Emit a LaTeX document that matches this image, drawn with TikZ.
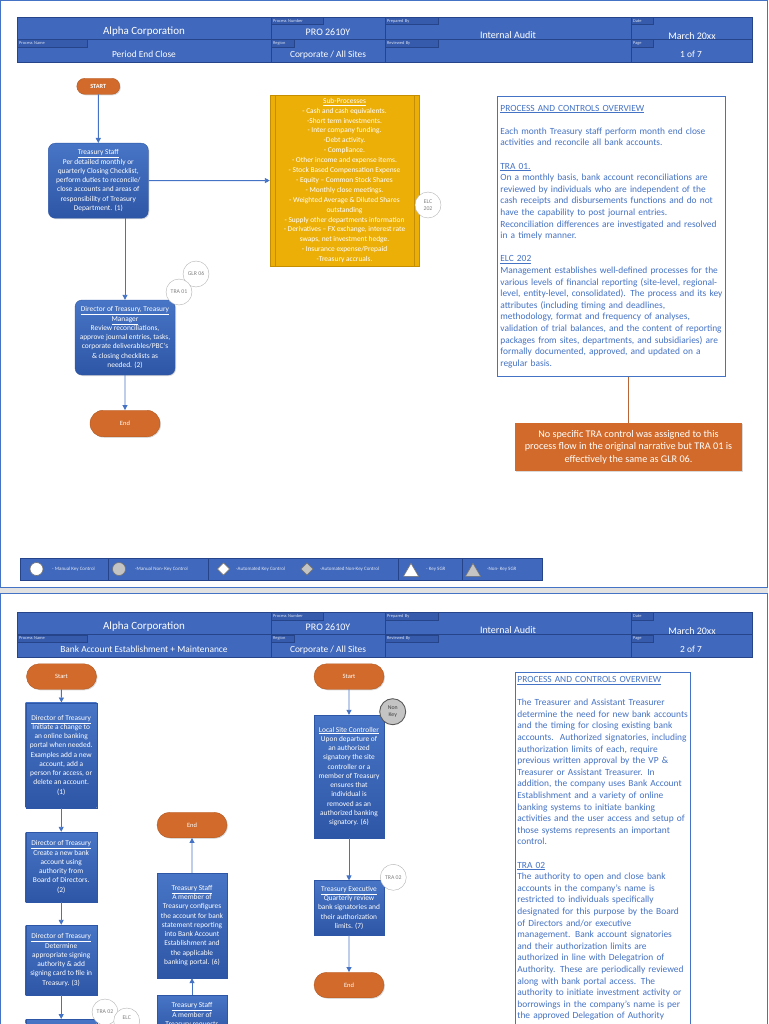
\documentclass[tikz,border=0pt]{standalone}
\usepackage{fontspec}
\setmainfont{Carlito}
\usetikzlibrary{arrows.meta,positioning,shapes.misc,shapes.geometric,shadows}
\definecolor{hdrblue}{RGB}{64,104,188}
\definecolor{tagblue}{RGB}{54,91,172}
\definecolor{hdrline}{RGB}{38,68,138}
\definecolor{boxblue}{RGB}{72,117,198}
\definecolor{boxdark}{RGB}{46,86,166}
\definecolor{pillorange}{RGB}{209,106,42}
\definecolor{noteline}{RGB}{185,100,55}
\definecolor{subgold}{RGB}{236,175,8}
\definecolor{subedge}{RGB}{196,142,0}
\definecolor{txtblue}{RGB}{68,114,196}
\definecolor{ctlgray}{RGB}{178,178,178}
\definecolor{lggray}{RGB}{196,196,196}
\definecolor{gapgray}{RGB}{226,226,226}
\newcommand{\fsz}[2]{\fontsize{#1}{#2}\selectfont}
\tikzset{
  frame/.style={draw=txtblue,line width=1pt},
  hdrcell/.style={draw=hdrline,fill=hdrblue,line width=0.4pt},
  hdrtag/.style={anchor=north west,fill=tagblue,draw=hdrline,line width=0.3pt,inner xsep=2pt,inner ysep=0.8pt,
    minimum height=7.5pt,align=left,font=\fsz{4.4}{5},text=white!80!hdrblue,
    drop shadow={shadow xshift=0.8pt,shadow yshift=-0.8pt,opacity=0.35}},
  hdrbig/.style={font=\fsz{11}{13},text=white,inner sep=0pt},
  hdrval/.style={font=\fsz{10}{12},text=white,inner sep=0pt},
  hdrsub/.style={font=\fsz{9.4}{11},text=white,inner sep=0pt},
  flowbox/.style={rectangle,draw=boxdark,top color=boxblue,bottom color=boxdark,text=white,
    font=\fsz{7.4}{9.25},align=center,inner sep=1pt,
    drop shadow={shadow xshift=1pt,shadow yshift=-1pt,opacity=0.3}},
  pill/.style={rounded rectangle,fill=pillorange,draw=pillorange!85!black,text=white,
    font=\fsz{6.5}{7},minimum width=70pt,minimum height=25.5pt,inner sep=0pt,
    drop shadow={shadow xshift=1pt,shadow yshift=-1pt,opacity=0.3}},
  flowarrow/.style={draw=txtblue,line width=0.9pt,-{Triangle[length=5pt,width=5pt]}},
  subproc/.style={rectangle,draw=subedge,fill=subgold,text=white,font=\fsz{7.4}{9.9},align=center,
    minimum width=149pt,minimum height=171pt,inner sep=1pt,
    drop shadow={shadow xshift=1pt,shadow yshift=-1pt,opacity=0.3}},
  subbar/.style={draw=subedge,line width=0.6pt},
  ovrbox/.style={rectangle,draw=txtblue,line width=0.8pt,fill=white,text=txtblue,anchor=north west,
    font=\fsz{9.4}{11.6},align=left,inner xsep=3pt},
  notebox/.style={rectangle,fill=pillorange,text=white,font=\fsz{10.2}{12.5},align=center,
    minimum width=227pt,minimum height=48pt,
    drop shadow={shadow xshift=1pt,shadow yshift=-1pt,opacity=0.3}},
  notelink/.style={draw=noteline,line width=0.7pt},
  ctl/.style={circle,draw=ctlgray,fill=white,text=gray,font=\fsz{5.8}{6.4},align=center,
    minimum size=26pt,inner sep=0pt},
  ctlnon/.style={ctl,fill=lggray,draw=black!65,line width=0.9pt,text=black!75},
  lgmark/.style={draw=black!55,fill=white,inner sep=0pt,line width=0.6pt},
  lgtext/.style={anchor=west,font=\fsz{5}{6},text=white!85!hdrblue,inner sep=0pt},
}
\begin{document}
\begin{tikzpicture}[x=1pt,y=-1pt]
  \useasboundingbox (0,0) rectangle (768,1024);
  \clip (0,0) rectangle (768,1024);
  % ---------- page frames ----------
  \fill[gapgray] (0,587) rectangle (768,593);
  \draw[frame] (0.5,0.5) rectangle (767.5,587);
  \draw[frame] (0.5,593) rectangle (767.5,1030);
  % ---------- headers of both pages ----------
  \foreach \pg/\dy/\pname in {1/0/{Period End Close},2/595/{Bank Account Establishment + Maintenance}}{
    \begin{scope}[shift={(0,\dy)},name prefix=h\pg-]
      \foreach \xa/\xb in {17/271,271/385,385/631,631/752}{
        \draw[hdrcell] (\xa,17) rectangle (\xb,39.5);
        \draw[hdrcell] (\xa,39.5) rectangle (\xb,62);
      }
      \node[hdrtag,text width=48pt] (tnum) at (271,17) {Process Number};
      \node[hdrtag,text width=49pt] (tprep) at (385,17) {Prepared By};
      \node[hdrtag,text width=18pt] (tdate) at (631,17) {Date};
      \node[hdrtag,text width=66pt] (tname) at (17,39.5) {Process Name};
      \node[hdrtag,text width=19pt] (treg) at (271,39.5) {Region};
      \node[hdrtag,text width=49pt] (trev) at (385,39.5) {Reviewed By};
      \node[hdrtag,text width=18pt] (tpage) at (631,39.5) {Page};
      \node[hdrbig] (corp) at (144,31.5) {Alpha Corporation};
      \node[hdrval] (pnum) at (328,32) {PRO 2610Y};
      \node[hdrval] (prep) at (508,35) {Internal Audit};
      \node[hdrval] (date) at (692,36) {March 20xx};
      \node[hdrsub] (pname) at (144,54.5) {\pname};
      \node[hdrsub] (region) at (328,54.5) {Corporate / All Sites};
      \node[hdrsub] (page) at (691,54.5) {\pg{} of 7};
    \end{scope}
  }
  % ---------- page 1: flow ----------
  \node[pill,minimum width=43pt,minimum height=16pt,font=\bfseries\fsz{6.3}{7}] (start1) at (98.3,86.3) {START};
  \node[flowbox,rounded corners=7pt,minimum width=100pt,minimum height=75pt] (staff1) at (98.3,180.7)
    {\underline{Treasury Staff}\\Per detailed monthly or\\quarterly Closing Checklist,\\perform duties to reconcile/\\close accounts and areas of\\responsibility of Treasury\\Department. (1)};
  \node[flowbox,rounded corners=7pt,minimum width=100pt,minimum height=75pt] (dir1) at (125,337.5)
    {\underline{Director of Treasury, Treasury}\\\underline{Manager}\\Review reconciliations,\\approve journal entries, tasks,\\corporate deliverables/PBC’s\\\& closing checklists as\\needed. (2)};
  \node[pill,minimum height=26.5pt] (end1) at (125,423.5) {End};
  \node[subproc] (sub1) at (344.5,180.5)
    {\underline{Sub-Processes}\\- Cash and cash equivalents.\\-Short term investments.\\- Inter company funding.\\-Debt activity.\\- Compliance.\\- Other income and expense items.\\- Stock Based Compensation Expense\\- Equity -- Common Stock Shares\\- Monthly close meetings.\\- Weighted Average \& Diluted Shares\\outstanding\\- Supply other departments information\\- Derivatives -- FX exchange, interest rate\\swaps, net investment hedge.\\- Insurance expense/Prepaid\\-Treasury accruals.};
  \draw[subbar] ([xshift=5pt]sub1.north west) -- ([xshift=5pt]sub1.south west);
  \draw[subbar] ([xshift=-5pt]sub1.north east) -- ([xshift=-5pt]sub1.south east);
  \draw[flowarrow] (start1) -- (staff1);
  \draw[flowarrow] (staff1) -- (sub1);
  \draw[flowarrow] (staff1.south -| dir1.north) -- (dir1.north);
  \draw[flowarrow] (dir1) -- (end1);
  % control markers
  \node[ctl] (glr06) at (196,274) {GLR 06};
  \node[ctl] (tra01) at (179,292) {TRA 01};
  \node[ctl] (elc202) at (428,205) {ELC\\202};
  % ---------- page 1: overview and note ----------
  \node[ovrbox,text width=222pt,minimum height=280pt] (ovr1) at (497,96)
    {\underline{PROCESS AND CONTROLS OVERVIEW}\\[11.6pt]
     Each month Treasury staff perform month end close\\
     activities and reconcile all bank accounts.\\[11.6pt]
     \underline{TRA 01.}\\
     On a monthly basis, bank account reconciliations are\\
     reviewed by individuals who are independent of the\\
     cash receipts and disbursements functions and do not\\
     have the capability to post journal entries.\\
     Reconciliation differences are investigated and resolved\\
     in a timely manner.\\[11.6pt]
     \underline{ELC 202}\\
     Management establishes well-defined processes for the\\
     various levels of financial reporting (site-level, regional-\\
     level, entity-level, consolidated). The process and its key\\
     attributes (including timing and deadlines,\\
     methodology, format and frequency of analyses,\\
     validation of trial balances, and the content of reporting\\
     packages from sites, departments, and subsidiaries) are\\
     formally documented, approved, and updated on a\\
     regular basis.};
  \node[notebox] (note1) at (628.5,447)
    {No specific TRA control was assigned to this\\process flow in the original narrative but TRA 01 is\\effectively the same as GLR 06.};
  \draw[notelink] (note1.north |- ovr1.south) -- (note1.north);
  % ---------- page 1: legend ----------
  \foreach \xa/\xb in {20/108,108/208,208/398,398/462,462/542}
    \draw[hdrcell] (\xa,558) rectangle (\xb,580);
  \node[lgmark,circle,minimum size=13pt] (lgmk) at (36.5,569) {};
  \node[lgtext] (lgmkt) at (52,569) {- Manual Key Control};
  \node[lgmark,circle,fill=lggray,minimum size=13pt] (lgmn) at (119,569) {};
  \node[lgtext] (lgmnt) at (135,569) {-Manual Non- Key Control};
  \node[lgmark,diamond,minimum size=12.5pt] (lgak) at (223.5,569) {};
  \node[lgtext] (lgakt) at (236,569) {-Automated Key Control};
  \node[lgmark,diamond,fill=lggray,minimum size=12.5pt] (lgan) at (307,569) {};
  \node[lgtext] (lgant) at (320,569) {-Automated Non-Key Control};
  \node[lgmark,regular polygon,regular polygon sides=3,minimum size=17.5pt] (lgsk) at (411,572) {};
  \node[lgtext] (lgskt) at (426,569) {- Key SGR};
  \node[lgmark,regular polygon,regular polygon sides=3,fill=lggray,minimum size=17.5pt] (lgsn) at (473,572) {};
  \node[lgtext] (lgsnt) at (487,569) {-Non- Key SGR};
  % ---------- page 2: left column ----------
  \node[pill] (start2) at (61.5,676.5) {Start};
  \node[flowbox,minimum width=71pt,minimum height=105pt] (init2) at (61.2,755.2)
    {\underline{Director of Treasury}\\Initiate a change to\\an online banking\\portal when needed.\\Examples add a new\\account, add a\\person for access, or\\delete an account.\\(1)};
  \node[flowbox,minimum width=71pt,minimum height=70pt] (create2) at (61.2,867)
    {\underline{Director of Treasury}\\Create a new bank\\account using\\authority from\\Board of Directors.\\(2)};
  \node[flowbox,minimum width=71pt,minimum height=70pt] (sign2) at (61.2,960)
    {\underline{Director of Treasury}\\Determine\\appropriate signing\\authority \& add\\signing card to file in\\Treasury. (3)};
  \node[flowbox,anchor=north,minimum width=71pt,minimum height=40pt] (next2) at (61.2,1019) {};
  \draw[flowarrow] (start2) -- (init2);
  \draw[flowarrow] (init2) -- (create2);
  \draw[flowarrow] (create2) -- (sign2);
  \draw[flowarrow] (sign2) -- (next2);
  \node[ctl] (tra02a) at (105,1012) {TRA 02};
  \node[ctl] (elc2) at (126.7,1021) {ELC\\~};
  % ---------- page 2: middle column ----------
  \node[pill] (end2) at (192,825) {End};
  \node[flowbox,minimum width=70pt,minimum height=105pt] (config2) at (192,925.5)
    {\underline{Treasury Staff}\\A member of\\Treasury configures\\the account for bank\\statement reporting\\into Bank Account\\Establishment and\\the applicable\\banking portal. (6)};
  \node[flowbox,anchor=north,minimum width=70pt,minimum height=40pt] (request2) at (192,995)
    {\underline{Treasury Staff}\\A member of\\Treasury requests};
  \draw[flowarrow] (request2) -- (config2);
  \draw[flowarrow] (config2) -- (end2);
  % ---------- page 2: right column ----------
  \node[pill] (start3) at (349,676.5) {Start};
  \node[flowbox,minimum width=70pt,minimum height=123pt] (local3) at (349,776.5)
    {\underline{Local Site Controller}\\Upon departure of\\an authorized\\signatory the site\\controller or a\\member of Treasury\\ensures that\\individual is\\removed as an\\authorized banking\\signatory. (6)};
  \node[flowbox,minimum width=70pt,minimum height=54.3pt] (exec3) at (349,907.8)
    {\underline{Treasury Executive}\\Quarterly review\\bank signatories and\\their authorization\\limits. (7)};
  \node[pill] (end3) at (349,985) {End};
  \draw[flowarrow] (start3) -- (local3);
  \draw[flowarrow] (local3) -- (exec3);
  \draw[flowarrow] (exec3) -- (end3);
  \node[ctlnon] (nonkey3) at (392.7,711.7) {Non\\Key};
  \node[ctl] (tra02b) at (393.3,877.3) {TRA 02};
  % ---------- page 2: overview ----------
  \node[ovrbox,text width=171pt,inner xsep=2pt,inner ysep=4pt] (ovr2) at (515,672)
    {\underline{PROCESS AND CONTROLS OVERVIEW}\\[11.55pt]
     The Treasurer and Assistant Treasurer\\
     determine the need for new bank accounts\\
     and the timing for closing existing bank\\
     accounts.\ \ Authorized signatories, including\\
     authorization limits of each, require\\
     previous written approval by the VP \&\\
     Treasurer or Assistant Treasurer. In\\
     addition, the company uses Bank Account\\
     Establishment and a variety of online\\
     banking systems to initiate banking\\
     activities and the user access and setup of\\
     those systems represents an important\\
     control.\\[11.55pt]
     \underline{TRA 02}\\
     The authority to open and close bank\\
     accounts in the company’s name is\\
     restricted to individuals specifically\\
     designated for this purpose by the Board\\
     of Directors and/or executive\\
     management. Bank account signatories\\
     and their authorization limits are\\
     authorized in line with Delegatrion of\\
     Authority. These are periodically reviewed\\
     along with bank portal access. The\\
     authority to initiate investment activity or\\
     borrowings in the company’s name is per\\
     the approved Delegation of Authority};
\end{tikzpicture}
\end{document}
